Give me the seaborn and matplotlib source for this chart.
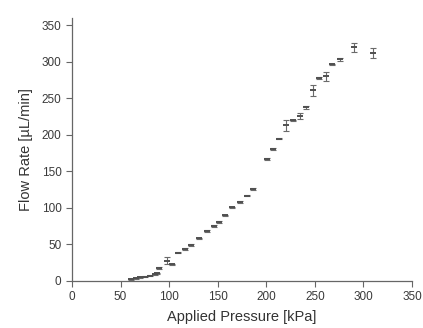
import matplotlib
matplotlib.use("Agg")
import matplotlib.pyplot as plt
import seaborn as sns
import pandas as pd

# Data
pressure = [61, 66, 70, 75, 80, 85, 88, 90, 98, 103, 109, 116, 123, 130.5, 139, 146,
            151, 158, 165, 173, 180, 186, 201, 206.5, 213, 220, 228, 235, 241, 248.5,
            254, 261, 267.5, 275.5, 290, 310]
flow = [2.3, 3.7, 5, 6, 7.3, 9, 10.5, 18, 28, 22.8, 39, 43.7, 49, 58.3, 68.3, 75.6,
        80.6, 90, 100.7, 108.4, 117, 125.7, 167.3, 180.5, 195, 213, 220, 226, 237.5, 261,
        278, 280, 296.5, 303.3, 320, 311.5]
flow_err = [0.8, 0.8, 0.8, 0.8, 0.8, 0.8, 0.8, 1.0, 5, 1.0, 1.0, 1.0, 1.0, 1.0, 1.0, 1.0,
            1.0, 1.0, 1.0, 1.0, 1.0, 1.0, 1.0, 1.0, 1.0, 7.7, 1.0, 4.5, 1.5, 7.3,
            1.0, 6, 1.0, 1.5, 6, 6.8]
x_ticks = [0, 50, 100, 150, 200, 250, 300, 350]
y_ticks = [0, 50, 100, 150, 200, 250, 300, 350]

df = pd.DataFrame({"pressure": pressure, "flow": flow, "err": flow_err})

sns.set_theme(style="ticks")
plt.rcParams["font.family"] = ["Liberation Sans", "DejaVu Sans"]

fig = plt.figure(figsize=(4.23, 3.28), dpi=100)
ax = fig.add_axes([0.1702, 0.1433, 0.8038, 0.8018])

ax.errorbar(df["pressure"], df["flow"], yerr=df["err"], fmt="none",
            ecolor="#6a6a6a", elinewidth=0.8, capsize=2.2, capthick=0.8, zorder=2)
sns.scatterplot(data=df, x="pressure", y="flow", marker="_", s=16,
                linewidth=1.4, color="#505050", ax=ax, zorder=3, legend=False)

ax.set_xlim(0, 350)
ax.set_ylim(0, 360)
ax.set_xticks(x_ticks)
ax.set_yticks(y_ticks)
ax.set_xlabel("Applied Pressure [kPa]", fontsize=10.5, color="#333333", labelpad=5)
ax.set_ylabel("Flow Rate [µL/min]", fontsize=10.5, color="#333333", labelpad=6)
ax.tick_params(axis="both", labelsize=8.5, colors="#666666", labelcolor="#3a3a3a",
               length=4, width=0.8, direction="out")
for s in ["top", "right"]:
    ax.spines[s].set_visible(False)
for s in ["left", "bottom"]:
    ax.spines[s].set_color("#666666")
    ax.spines[s].set_linewidth(0.9)

fig.savefig("out.png", dpi=100)
